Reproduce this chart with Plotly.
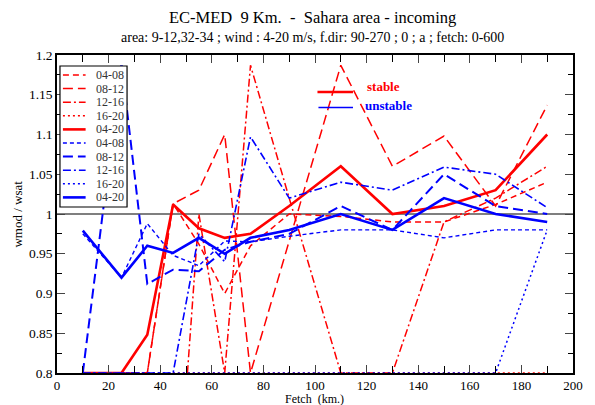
import plotly.graph_objects as go

# ---------------- data ----------------
fetch = [10, 25, 35, 45, 55, 65, 75, 90, 110, 130, 150, 170, 190]
periods = ["04-08", "08-12", "12-16", "16-20", "04-20"]

stable_0408 = [0.8, 0.8, 0.8, 1.013, 0.962, 0.90, 0.96, 1.0, 0.997, 0.99, 0.99, 1.012, 1.04]
stable_0812 = [0.8, 0.8, 0.8, 1.013, 1.03, 1.10, 0.8, 0.966, 1.187, 1.06, 1.098, 1.01, 1.137]
stable_1216 = [0.8, 0.8, 0.8, 0.55, 1.0, 0.8, 1.187, 1.02, 0.8, 0.8, 0.99, 1.02, 1.06]
stable_1620 = [0.8, 0.8, 0.8, 0.8, 0.8, 0.8, 0.8, 0.8, 0.8, 0.8, 0.8, 0.8, 0.8]
stable_0420 = [0.8, 0.8, 0.848, 1.012, 0.982, 0.97, 0.975, 1.01, 1.06, 1.0, 1.01, 1.03, 1.1]

unstable_0408 = [0.975, 0.92, 0.988, 0.948, 0.935, 0.966, 0.965, 0.972, 0.98, 0.98, 0.97, 0.98, 0.98]
unstable_0812 = [0.8, 1.19, 0.912, 0.93, 0.928, 0.955, 0.965, 0.975, 1.01, 0.98, 1.05, 1.01, 1.0]
unstable_1216 = [0.8, 0.8, 0.8, 0.8, 0.975, 0.94, 1.097, 1.02, 1.04, 1.03, 1.059, 1.05, 1.008]
unstable_1620 = [0.8, 0.8, 0.8, 0.8, 0.8, 0.8, 0.8, 0.8, 0.8, 0.8, 0.8, 0.8, 0.98]
unstable_0420 = [0.979, 0.92, 0.96, 0.951, 0.97, 0.95, 0.97, 0.98, 1.0, 0.98, 1.02, 1.0, 0.99]

x_ticks = [0, 20, 40, 60, 80, 100, 120, 140, 160, 180, 200]

RED = "#ff0000"
BLUE = "#0000ff"

stable_sets = [stable_0408, stable_0812, stable_1216, stable_1620, stable_0420]
unstable_sets = [unstable_0408, unstable_0812, unstable_1216, unstable_1620, unstable_0420]

red_styles = [
    dict(dash="6px,4px", width=1.5),
    dict(dash="10px,5px", width=1.5),
    dict(dash="8px,3px,2px,3px", width=1.5),
    dict(dash="2px,3px", width=1.5),
    dict(dash="solid", width=2.6),
]
blue_styles = [
    dict(dash="4px,3px", width=1.4),
    dict(dash="10px,5px", width=2.0),
    dict(dash="8px,3px,2px,3px", width=1.6),
    dict(dash="2px,3px", width=1.5),
    dict(dash="solid", width=2.6),
]

fig = go.Figure()
for vals, st, p in zip(stable_sets, red_styles, periods):
    fig.add_trace(go.Scatter(x=fetch, y=vals, mode="lines", name=p,
                             line=dict(color=RED, **st), showlegend=False))
for vals, st, p in zip(unstable_sets, blue_styles, periods):
    fig.add_trace(go.Scatter(x=fetch, y=vals, mode="lines", name=p,
                             line=dict(color=BLUE, **st), showlegend=False))

# ---------------- layout geometry ----------------
# The page has an 8px body margin, so the figure is shifted by 8px.
OFF = 8
PAGE_W, PAGE_H = 595, 405
PL, PR, PT, PB = 57, 580, 55, 373          # plot area on the page
W, H = PAGE_W - OFF, PAGE_H - OFF
L, T = PL - OFF, PT - OFF
R = W - (PR - OFF)
B = H - (PB - OFF)
PW, PH = PR - PL, PB - PT


def px_x(X):
    return (X - PL) / PW


def px_y(Y):
    return (PB - Y) / PH


FONT = "Liberation Serif"

shapes = []
annotations = []

# manual legend box (periods)
shapes.append(dict(type="rect", xref="paper", yref="paper",
                   x0=px_x(60), x1=px_x(128), y0=px_y(207), y1=px_y(66),
                   line=dict(color="black", width=1.2), fillcolor="white", layer="above"))
entries = [(p, RED, s) for p, s in zip(periods, red_styles)] + \
          [(p, BLUE, s) for p, s in zip(periods, blue_styles)]
for i, (lab, col, st) in enumerate(entries):
    Y = 75 + 13.6 * i
    shapes.append(dict(type="line", xref="paper", yref="paper",
                       x0=px_x(63), x1=px_x(86), y0=px_y(Y), y1=px_y(Y),
                       line=dict(color=col, width=st["width"], dash=st["dash"]), layer="above"))
    annotations.append(dict(text=lab, xref="paper", yref="paper", x=px_x(94), y=px_y(Y),
                            xanchor="left", yanchor="middle", showarrow=False,
                            font=dict(family=FONT, size=12, color="#333333")))

# stable / unstable key
shapes.append(dict(type="line", xref="paper", yref="paper",
                   x0=px_x(321), x1=px_x(357), y0=px_y(92), y1=px_y(92),
                   line=dict(color=RED, width=2.6), layer="above"))
shapes.append(dict(type="line", xref="paper", yref="paper",
                   x0=px_x(322), x1=px_x(357), y0=px_y(107.5), y1=px_y(107.5),
                   line=dict(color=BLUE, width=1.6), layer="above"))
annotations.append(dict(text="<b>stable</b>", xref="paper", yref="paper", x=px_x(369), y=px_y(86),
                        xanchor="left", yanchor="middle", showarrow=False,
                        font=dict(family=FONT, size=13, color=RED)))
annotations.append(dict(text="<b>unstable</b>", xref="paper", yref="paper", x=px_x(367), y=px_y(106),
                        xanchor="left", yanchor="middle", showarrow=False,
                        font=dict(family=FONT, size=13, color=BLUE)))

# titles
annotations.append(dict(text="EC-MED\u00a0\u00a09 Km.\u00a0\u00a0-\u00a0\u00a0Sahara area - incoming",
                        xref="paper", yref="paper", x=px_x(316), y=px_y(17),
                        xanchor="center", yanchor="middle", showarrow=False,
                        font=dict(family=FONT, size=16.5, color="black")))
annotations.append(dict(text="area: 9-12,32-34 ; wind : 4-20 m/s, f.dir: 90-270 ; 0 ; a ; fetch: 0-600",
                        xref="paper", yref="paper", x=px_x(316), y=px_y(38),
                        xanchor="center", yanchor="middle", showarrow=False,
                        font=dict(family=FONT, size=14, color="black")))
annotations.append(dict(text="Fetch\u00a0\u00a0(km.)", xref="paper", yref="paper",
                        x=px_x(318), y=px_y(399), xanchor="center", yanchor="middle",
                        showarrow=False, font=dict(family=FONT, size=12, color="black")))
annotations.append(dict(text="wmod / wsat", xref="paper", yref="paper",
                        x=px_x(16), y=px_y(214), xanchor="center", yanchor="middle",
                        textangle=-90, showarrow=False,
                        font=dict(family=FONT, size=13, color="black")))

fig.update_layout(
    width=W, height=H,
    margin=dict(l=L, r=R, t=T, b=B, pad=0),
    paper_bgcolor="white", plot_bgcolor="white",
    showlegend=False,
    font=dict(family=FONT, size=13, color="black"),
    annotations=annotations,
    xaxis=dict(range=[0, 200], tickvals=x_ticks, ticks="inside", ticklen=8, tickwidth=1,
               showline=True, linecolor="black", linewidth=1.5, mirror="ticks",
               showgrid=False, zeroline=False,
               minor=dict(dtick=10, ticks="inside", ticklen=7, tickcolor="black"),
               tickfont=dict(family=FONT, size=13)),
    yaxis=dict(range=[0.8, 1.2], dtick=0.05, ticks="inside", ticklen=8, tickwidth=1,
               showline=True, linecolor="black", linewidth=1.5, mirror="ticks",
               showgrid=False, zeroline=False,
               minor=dict(dtick=0.025, ticks="inside", ticklen=5, tickcolor="black"),
               tickfont=dict(family=FONT, size=13.5)),
)

# reference line at 1 (below data), then the legend decorations
fig.add_hline(y=1.0, line=dict(color="black", width=1.2), layer="below")
for s in shapes:
    fig.add_shape(**s)

fig.write_html("out.html")
